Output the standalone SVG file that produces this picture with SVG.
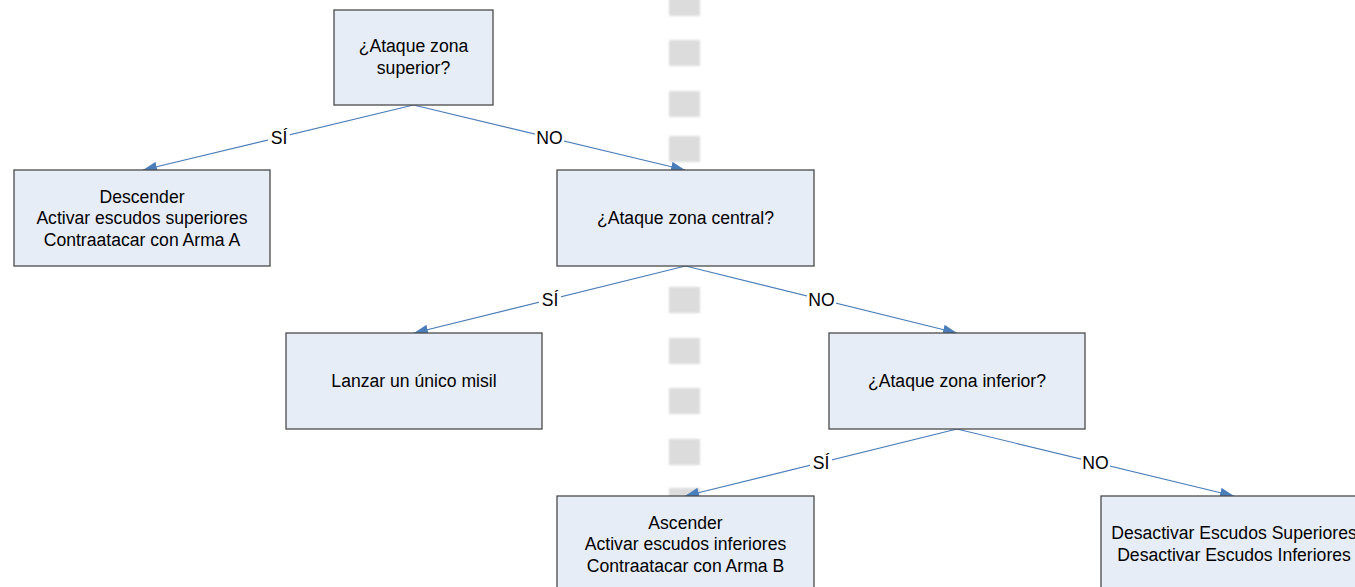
<svg xmlns="http://www.w3.org/2000/svg" width="1355" height="587" viewBox="0 0 1355 587">
<defs>
<style>
.box{fill:#e7edf7;stroke:#4a4a4a;stroke-width:1.3}
.t{font-family:"Liberation Sans",Arial,sans-serif;font-size:17.6px;fill:#000;text-anchor:middle}
.c{stroke:#4a7ebb;stroke-width:1.2;fill:none;marker-end:url(#ah)}
.lb{fill:#fff}
.dash{fill:#dcdcdc;filter:url(#bl)}
</style>
<marker id="ah" viewBox="0 0 14 10" refX="14" refY="5" markerWidth="14" markerHeight="10" markerUnits="userSpaceOnUse" orient="auto">
<path d="M0,0 L14,5 L0,10 Z" fill="#4a7ebb"/>
</marker>
<filter id="bl" x="-20%" y="-20%" width="140%" height="140%"><feGaussianBlur stdDeviation="0.8"/></filter>
</defs>
<rect width="1355" height="587" fill="#fff"/>
<g id="divider">
<rect class="dash" x="669" y="-10" width="31" height="26"/>
<rect class="dash" x="669" y="40" width="31" height="26"/>
<rect class="dash" x="669" y="91" width="31" height="26"/>
<rect class="dash" x="669" y="136" width="31" height="26"/>
<rect class="dash" x="669" y="287" width="31" height="26"/>
<rect class="dash" x="669" y="338" width="31" height="26"/>
<rect class="dash" x="669" y="388" width="31" height="26"/>
<rect class="dash" x="669" y="439" width="31" height="26"/>
<rect class="dash" x="669" y="488" width="31" height="26"/>
</g>
<g id="connectors">
<line class="c" x1="413.5" y1="105" x2="143" y2="170"/>
<line class="c" x1="413.5" y1="105" x2="685" y2="170"/>
<line class="c" x1="685.5" y1="266" x2="414" y2="333"/>
<line class="c" x1="685.5" y1="266" x2="957" y2="333"/>
<line class="c" x1="957" y1="429" x2="685" y2="496"/>
<line class="c" x1="957" y1="429" x2="1234" y2="496"/>
<rect class="lb" x="268" y="127" width="22" height="20"/>
<text class="t" x="279" y="144">SÍ</text>
<rect class="lb" x="535" y="127" width="29" height="20"/>
<text class="t" x="549.5" y="144">NO</text>
<rect class="lb" x="539" y="289" width="22" height="20"/>
<text class="t" x="550" y="306">SÍ</text>
<rect class="lb" x="807" y="289" width="29" height="20"/>
<text class="t" x="821.5" y="306">NO</text>
<rect class="lb" x="810" y="452" width="22" height="20"/>
<text class="t" x="821" y="469">SÍ</text>
<rect class="lb" x="1081" y="452" width="29" height="20"/>
<text class="t" x="1095.5" y="469">NO</text>
</g>
<g id="n1">
<rect class="box" x="334" y="10" width="159" height="95"/>
<text class="t" x="413.5" y="52">¿Ataque zona</text>
<text class="t" x="413.5" y="74">superior?</text>
</g>
<g id="n2">
<rect class="box" x="14" y="170" width="256" height="96"/>
<text class="t" x="142" y="202.5">Descender</text>
<text class="t" x="142" y="224">Activar escudos superiores</text>
<text class="t" x="142" y="245.5">Contraatacar con Arma A</text>
</g>
<g id="n3">
<rect class="box" x="557" y="170" width="257" height="96"/>
<text class="t" x="685.5" y="224">¿Ataque zona central?</text>
</g>
<g id="n4">
<rect class="box" x="286" y="333" width="256" height="96"/>
<text class="t" x="414" y="387">Lanzar un único misil</text>
</g>
<g id="n5">
<rect class="box" x="829" y="333" width="256" height="96"/>
<text class="t" x="957" y="387">¿Ataque zona inferior?</text>
</g>
<g id="n6">
<rect class="box" x="557" y="496" width="257" height="96"/>
<text class="t" x="685.5" y="528.5">Ascender</text>
<text class="t" x="685.5" y="550">Activar escudos inferiores</text>
<text class="t" x="685.5" y="571.5">Contraatacar con Arma B</text>
</g>
<g id="n7">
<rect class="box" x="1101" y="496" width="266" height="96"/>
<text class="t" x="1234" y="539">Desactivar Escudos Superiores</text>
<text class="t" x="1234" y="560.5">Desactivar Escudos Inferiores</text>
</g>
</svg>
